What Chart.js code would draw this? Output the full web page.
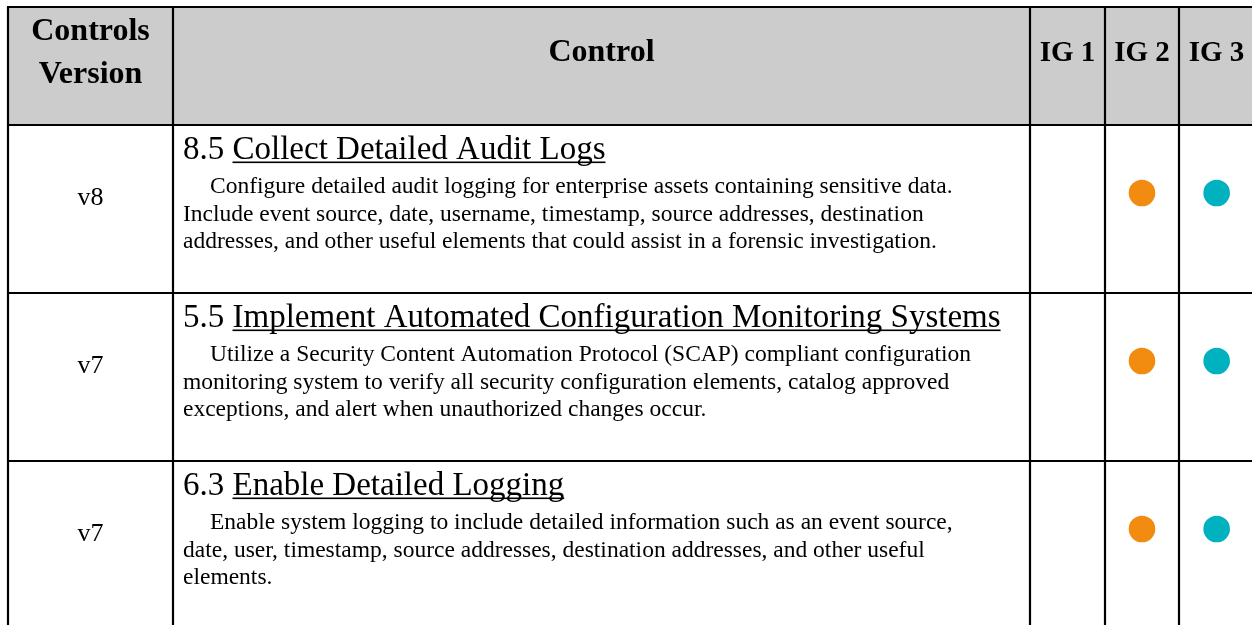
<!DOCTYPE html>
<html>
<head>
<meta charset="utf-8">
<script src="https://cdn.jsdelivr.net/npm/chart.js@4"></script>
<style>
  html, body { margin: 0; padding: 0; background: #fff; overflow: hidden; }
  canvas { display: block; }
</style>
</head>
<body>
<canvas id="myChart" width="1256" height="625"></canvas>
<script>
// Data of the table
const versions = ['v8', 'v7', 'v7'];
const safeguardIds = ['8.5', '5.5', '6.3'];
const titles = [
  'Collect Detailed Audit Logs',
  'Implement Automated Configuration Monitoring Systems',
  'Enable Detailed Logging'
];
const descriptions = [
  ['Configure detailed audit logging for enterprise assets containing sensitive data.',
   'Include event source, date, username, timestamp, source addresses, destination',
   'addresses, and other useful elements that could assist in a forensic investigation.'],
  ['Utilize a Security Content Automation Protocol (SCAP) compliant configuration',
   'monitoring system to verify all security configuration elements, catalog approved',
   'exceptions, and alert when unauthorized changes occur.'],
  ['Enable system logging to include detailed information such as an event source,',
   'date, user, timestamp, source addresses, destination addresses, and other useful',
   'elements.']
];
const headers = ['Controls\nVersion', 'Control'];
const igLabels = ['IG 1', 'IG 2', 'IG 3'];
const ig1 = [false, false, false];
const ig2 = [true, true, true];
const ig3 = [true, true, true];
const igColors = ['#f18c10', '#f18c10', '#00b1bf'];

// Layout of the table
const colX = [8, 173, 1030, 1105, 1179, 1254];
const tableTop = 7;
const headerBottom = 125;
const rowH = 168;
const dotOffset = 68; // dot centre below the row top
const serif = '"Liberation Serif", "DejaVu Serif", serif';

const igFlags = [ig1, ig2, ig3];
const datasets = igLabels.map(function (lab, k) {
  return {
    label: lab,
    data: safeguardIds.filter(function (id, i) { return igFlags[k][i]; })
      .map(function (id) { return { x: lab, y: id }; }),
    backgroundColor: igColors[k],
    borderWidth: 0,
    pointRadius: 13.3,
    pointHoverRadius: 13.3
  };
});

// Draws the grid and the texts of the table
const tablePlugin = {
  id: 'tablePlugin',
  beforeDatasetsDraw: function (chart) {
    const ctx = chart.ctx;
    const W = chart.width;
    const H = chart.height;
    ctx.save();

    // header background
    ctx.fillStyle = '#cccccc';
    ctx.fillRect(colX[0], tableTop, W - colX[0], headerBottom - tableTop);

    ctx.fillStyle = '#000';
    ctx.textBaseline = 'alphabetic';

    // header texts
    ctx.textAlign = 'center';
    ctx.font = 'bold 32px ' + serif;
    const h0 = headers[0].split('\n');
    ctx.fillText(h0[0], (colX[0] + colX[1]) / 2, 40);
    ctx.fillText(h0[1], (colX[0] + colX[1]) / 2, 83);
    ctx.fillText(headers[1], (colX[1] + colX[2]) / 2, 61);
    ctx.font = 'bold 29px ' + serif;
    igLabels.forEach(function (lab, k) {
      ctx.fillText(lab, (colX[2 + k] + colX[3 + k]) / 2, 61);
    });

    // rows
    versions.forEach(function (v, i) {
      const top = headerBottom + i * rowH;
      ctx.textAlign = 'center';
      ctx.font = '26px ' + serif;
      ctx.fillText(v, (colX[0] + colX[1]) / 2, top + 80);

      ctx.textAlign = 'left';
      ctx.font = '33px ' + serif;
      const idText = safeguardIds[i] + ' ';
      const x0 = 183;
      const ty = top + 34;
      ctx.fillText(idText, x0, ty);
      const xs = x0 + ctx.measureText(idText).width;
      ctx.fillText(titles[i], xs, ty);
      const tw = ctx.measureText(titles[i]).width;
      ctx.fillRect(xs, ty + 2.5, tw, 1.6);

      ctx.font = '23.5px ' + serif;
      descriptions[i].forEach(function (line, j) {
        ctx.fillText(line, j === 0 ? 210 : 183, top + 68 + j * 27.5);
      });
    });

    // grid lines
    ctx.strokeStyle = '#000';
    ctx.lineWidth = 2.2;
    ctx.beginPath();
    colX.forEach(function (x) {
      ctx.moveTo(x, tableTop);
      ctx.lineTo(x, H);
    });
    ctx.moveTo(colX[0] - 1, tableTop);
    ctx.lineTo(W, tableTop);
    for (let i = 0; i < versions.length; i++) {
      const y = headerBottom + i * rowH;
      ctx.moveTo(colX[0] - 1, y);
      ctx.lineTo(W, y);
    }
    ctx.stroke();
    ctx.restore();
  }
};

const canvas = document.getElementById('myChart');
const padTop = headerBottom + dotOffset - rowH / 2;
const padBottom = canvas.height - (padTop + rowH * safeguardIds.length);

new Chart(canvas.getContext('2d'), {
  type: 'scatter',
  data: { datasets: datasets },
  options: {
    responsive: false,
    animation: false,
    layout: {
      autoPadding: false,
      padding: { left: colX[2], right: canvas.width - colX[5], top: padTop, bottom: padBottom }
    },
    scales: {
      x: { type: 'category', labels: igLabels, offset: true, display: false },
      y: { type: 'category', labels: safeguardIds, offset: true, display: false }
    },
    plugins: {
      legend: { display: false },
      tooltip: { enabled: false }
    }
  },
  plugins: [tablePlugin]
});
</script>
</body>
</html>
